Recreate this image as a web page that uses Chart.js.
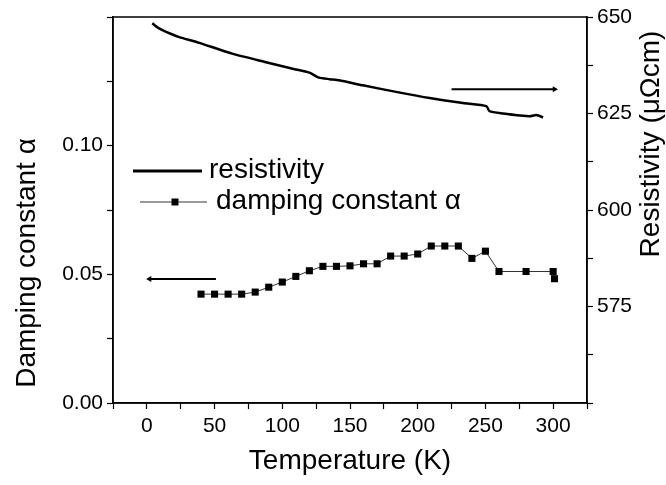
<!DOCTYPE html>
<html>
<head>
<meta charset="utf-8">
<script src="https://cdn.jsdelivr.net/npm/chart.js@4.4.0/dist/chart.umd.min.js"></script>
<style>
  html, body { margin: 0; padding: 0; background: #fff; }
  #wrap { width: 666px; height: 485px; }
</style>
</head>
<body>
<div id="wrap"><canvas id="chart"></canvas></div>
<script>
// damping constant (left axis)
const dampTemp  = [40, 50, 60, 70, 80, 90, 100, 110, 120, 130, 140, 150, 160, 170, 180, 190, 200, 210, 220, 230, 240, 250, 260, 280, 300, 301];
const dampAlpha = [0.0423, 0.0423, 0.0423, 0.0423, 0.0431, 0.045, 0.047, 0.0492, 0.0514, 0.0531, 0.0531, 0.0533, 0.0541, 0.0541, 0.0571, 0.0571, 0.0579, 0.061, 0.061, 0.061, 0.0562, 0.059, 0.0511, 0.0511, 0.0511, 0.0483];

// resistivity (right axis)
const resTemp  = [4, 7, 11.5, 18, 24, 38.7, 63, 88, 107.7, 120, 127, 135, 142, 159.5, 184, 208.8, 233.4, 250.7, 253, 263, 277.8, 282.8, 287.7, 292.6];
const resValue = [648.4, 647.5, 646.6, 645.6, 644.8, 643.3, 640.5, 638.3, 636.6, 635.6, 634.3, 633.9, 633.6, 632.3, 630.6, 629.0, 627.7, 626.9, 625.6, 625.0, 624.4, 624.3, 624.6, 624.0];

// arrows showing which axis each curve belongs to
const leftArrowT  = [51, 2];
const leftArrowY  = [0.0482, 0.0482];
const rightArrowT = [225, 301];
const rightArrowY = [631.3, 631.3];

const legendLabels = ["resistivity", "damping constant \u03b1"];
const xTitle = "Temperature (K)";
const yTitle = "Damping constant \u03b1";
const y2Title = "Resistivity (\u03bc\u03a9cm)";

const FONT = "'Liberation Sans', Arial, Helvetica, sans-serif";

const toXY = (xs, ys) => xs.map((x, i) => ({ x: x, y: ys[i] }));

const frame = {
    id: "frame",
    afterDraw(chart) {
        const { ctx, chartArea: a } = chart;
        ctx.save();
        ctx.strokeStyle = "#000";
        ctx.lineWidth = 1.5;
        ctx.strokeRect(a.left, a.top, a.right - a.left, a.bottom - a.top);

        // vertical axis titles, both read bottom to top
        ctx.fillStyle = "#000";
        ctx.font = "28px " + FONT;
        ctx.textAlign = "center";
        ctx.textBaseline = "middle";
        ctx.translate(27, 263);
        ctx.rotate(-Math.PI / 2);
        ctx.fillText(yTitle, 0, 0);
        ctx.restore();

        ctx.save();
        ctx.fillStyle = "#000";
        ctx.font = "28px " + FONT;
        ctx.textAlign = "center";
        ctx.textBaseline = "middle";
        ctx.translate(651, 144);
        ctx.rotate(-Math.PI / 2);
        ctx.fillText(y2Title, 0, 0);
        ctx.restore();

        // legend
        ctx.save();
        ctx.fillStyle = "#000";
        ctx.strokeStyle = "#000";
        ctx.font = "28px " + FONT;
        ctx.textBaseline = "middle";
        ctx.lineWidth = 3;
        ctx.beginPath();
        ctx.moveTo(133, 171);
        ctx.lineTo(202, 171);
        ctx.stroke();
        ctx.fillText(legendLabels[0], 209, 170);
        ctx.lineWidth = 1;
        ctx.strokeStyle = "#333";
        ctx.beginPath();
        ctx.moveTo(140, 202);
        ctx.lineTo(207, 202);
        ctx.stroke();
        ctx.fillRect(171.5, 198.5, 7, 7);
        ctx.fillText(legendLabels[1], 216, 201);
        ctx.restore();
    }
};

const tickFont = { family: FONT, size: 21 };

new Chart(document.getElementById("chart"), {
    type: "line",
    data: {
        datasets: [
            {
                label: legendLabels[0],
                data: toXY(resTemp, resValue),
                yAxisID: "y2",
                borderColor: "#000",
                borderWidth: 2.5,
                pointRadius: 0,
                tension: 0.2
            },
            {
                label: legendLabels[1],
                data: toXY(dampTemp, dampAlpha),
                yAxisID: "y",
                borderColor: "#333",
                borderWidth: 1,
                pointStyle: "rect",
                pointRadius: 5,
                pointBackgroundColor: "#000",
                pointBorderColor: "#000",
                pointBorderWidth: 0
            },
            {
                label: "arrow left",
                data: toXY(leftArrowT, leftArrowY),
                yAxisID: "y",
                borderColor: "#000",
                borderWidth: 2,
                pointStyle: "triangle",
                pointRadius: [0, 3.5],
                pointRotation: -90,
                pointBackgroundColor: "#000",
                pointBorderWidth: 0
            },
            {
                label: "arrow right",
                data: toXY(rightArrowT, rightArrowY),
                yAxisID: "y2",
                borderColor: "#000",
                borderWidth: 2,
                pointStyle: "triangle",
                pointRadius: [0, 3.5],
                pointRotation: 90,
                pointBackgroundColor: "#000",
                pointBorderWidth: 0
            }
        ]
    },
    options: {
        responsive: true,
        maintainAspectRatio: false,
        animation: false,
        layout: { padding: { top: 17, left: 0, right: 0, bottom: 0 } },
        plugins: {
            legend: { display: false },
            tooltip: { enabled: false }
        },
        scales: {
            x: {
                type: "linear",
                min: -25,
                max: 325,
                afterFit(s) { s.height = 82; },
                border: { color: "#000", width: 1.5 },
                grid: { drawOnChartArea: false, color: "#000", tickLength: 6, tickWidth: 1.2 },
                ticks: {
                    stepSize: 25,
                    autoSkip: false,
                    maxRotation: 0,
                    padding: 5,
                    color: "#000",
                    font: tickFont,
                    callback: v => (v % 50 === 0 && v >= 0 && v <= 300) ? String(v) : ""
                },
                title: {
                    display: true,
                    text: xTitle,
                    color: "#000",
                    font: { family: FONT, size: 28 },
                    padding: { top: 0, bottom: 7 }
                }
            },
            y: {
                type: "linear",
                position: "left",
                min: 0,
                max: 0.15,
                afterFit(s) { s.width = 113; },
                border: { color: "#000", width: 1.5 },
                grid: { drawOnChartArea: false, color: "#000", tickLength: 6, tickWidth: 1.2 },
                ticks: {
                    stepSize: 0.025,
                    autoSkip: false,
                    padding: 4,
                    color: "#000",
                    font: tickFont,
                    callback: v => {
                        const k = v / 0.05;
                        return (Math.abs(k - Math.round(k)) < 1e-6 && v < 0.14) ? v.toFixed(2) : "";
                    }
                }
            },
            y2: {
                type: "linear",
                position: "right",
                min: 550,
                max: 650,
                afterFit(s) { s.width = 79; },
                border: { color: "#000", width: 1.5 },
                grid: { drawOnChartArea: false, color: "#000", tickLength: 6, tickWidth: 1.2 },
                ticks: {
                    stepSize: 12.5,
                    autoSkip: false,
                    padding: 4,
                    color: "#000",
                    font: tickFont,
                    callback: v => (v % 25 === 0 && v > 560) ? String(v) : ""
                }
            }
        }
    },
    plugins: [frame]
});
</script>
</body>
</html>
